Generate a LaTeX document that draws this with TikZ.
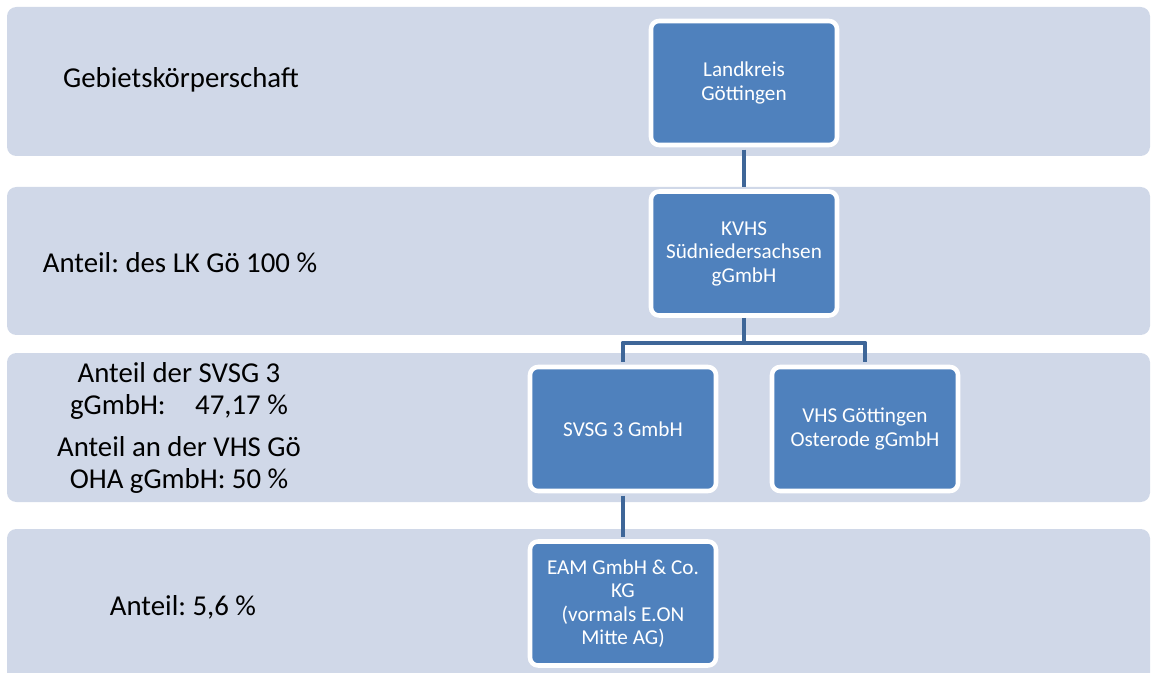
\documentclass[tikz,border=0pt]{standalone}
\usepackage{fontspec}
\setmainfont{Carlito}
\frenchspacing
\definecolor{bandfill}{RGB}{208,216,232}
\definecolor{unitfill}{RGB}{79,129,189}
\definecolor{connline}{RGB}{62,102,152}
\begin{document}
\begin{tikzpicture}[x=0.75pt, y=-0.75pt, line join=round,
	band/.style={fill=bandfill, rounded corners=7pt, inner sep=0pt, minimum width=857.25pt},
	unit/.style={fill=unitfill, draw=white, line width=3.4pt, rounded corners=6pt, inner sep=0pt,
		minimum width=139.5pt, minimum height=93pt, align=center, text=white,
		font=\fontsize{15.9}{17.6}\selectfont},
	lbl/.style={align=center, font=\fontsize{21.6}{24}\selectfont},
	conn/.style={draw=connline, line width=3.7pt, shorten >=1.7pt, shorten <=1.7pt}]
			\useasboundingbox (0,0) rectangle (1152,673);
			\clip (0,0) rectangle (1152,673);
			% bands
			\node[band, minimum height=111.75pt] (b1) at (578.5,81.5) {};
			\node[band, minimum height=111pt] (b2) at (578.5,261) {};
			\node[band, minimum height=111.75pt] (b3) at (578.5,427.5) {};
			\node[band, minimum height=180pt] (b4) at (578.5,649) {};
			\node[lbl] (t1) at (181,80) {Gebietskörperschaft};
			\node[lbl] (t2) at (180,263) {Anteil: des LK Gö 100 \%};
			\node[lbl] (t3) at (179,428) {Anteil der SVSG 3\\gGmbH:\hspace{0.8em} 47,17 \%\\[7pt]Anteil an der VHS Gö\\OHA gGmbH: 50 \%};
			\node[lbl] (t4) at (183,607) {Anteil: 5,6 \%};
			% units
			\node[unit] (lk) at (744,83) {Landkreis\\Göttingen};
			\node[unit] (kvhs) at (744,253.5) {KVHS\\Südniedersachsen\\gGmbH};
			\node[unit] (svsg) at (623,429) {SVSG 3 GmbH};
			\node[unit] (vhs) at (865,429) {VHS Göttingen\\Osterode gGmbH};
			\node[unit] (eam) at (623,603.5) {EAM GmbH \& Co.\\KG\\(vormals E.ON\\Mitte AG)};
			\coordinate (fork) at (744,343);
			\draw[conn] (lk) -- (kvhs);
			\draw[conn, shorten <=0pt] (kvhs) -- (fork);
			\draw[conn, shorten <=0pt] (fork) -| (svsg);
			\draw[conn, shorten <=0pt] (fork) -| (vhs);
			\draw[conn] (svsg) -- (eam);
\end{tikzpicture}
\end{document}
